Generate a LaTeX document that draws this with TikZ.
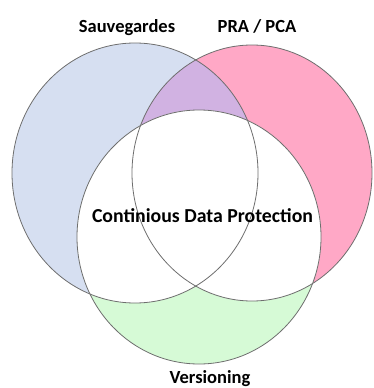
\documentclass[tikz,border=0pt]{standalone}
\usepackage{fontspec}
\setmainfont{Carlito}
\begin{document}
\begin{tikzpicture}[x=1pt,y=-1pt,
  venn line/.style={draw={rgb,255:red,110;green,110;blue,110},line width=0.8pt},
  venn label/.style={inner sep=0pt,anchor=base,font=\fontsize{18.5}{22}\selectfont\bfseries}]
\useasboundingbox (0,0) rectangle (373,388);

%Shape: Ellipse [left] 
\fill [fill={rgb,255:red,214;green,223;blue,241}] (135,173) ellipse [x radius=123pt, y radius=130pt];
%Shape: Ellipse [right] 
\fill [fill={rgb,255:red,255;green,168;blue,198}] (252,173) ellipse [x radius=120pt, y radius=128pt];
%Shape: Ellipse [left and right] 
\begin{scope}
\clip (135,173) ellipse [x radius=123pt, y radius=130pt];
\fill [fill={rgb,255:red,209;green,178;blue,226}] (252,173) ellipse [x radius=120pt, y radius=128pt];
\end{scope}
%Shape: Ellipse [bottom] 
\fill [fill={rgb,255:red,214;green,250;blue,214}] (199,237) ellipse [x radius=122pt, y radius=127pt];
\begin{scope}
\clip (199,237) ellipse [x radius=122pt, y radius=127pt];
\fill [white] (135,173) ellipse [x radius=123pt, y radius=130pt];
\fill [white] (252,173) ellipse [x radius=120pt, y radius=128pt];
\end{scope}

%Outlines
\draw [venn line] (135,173) ellipse [x radius=123pt, y radius=130pt];
\draw [venn line] (252,173) ellipse [x radius=120pt, y radius=128pt];
\draw [venn line] (199,237) ellipse [x radius=122pt, y radius=127pt];

% Text Node
\node [venn label] (sauvegardes) at (127,32) {Sauvegardes};
% Text Node
\node [venn label] (pra) at (257,32) {PRA / PCA};
% Text Node
\node [venn label] (versioning) at (210,383) {Versioning};
% Text Node
\node [inner sep=0pt,anchor=base,font=\fontsize{19.8}{23}\selectfont\bfseries] (cdp) at (202.5,222) {Continious Data Protection};

\end{tikzpicture}
\end{document}
